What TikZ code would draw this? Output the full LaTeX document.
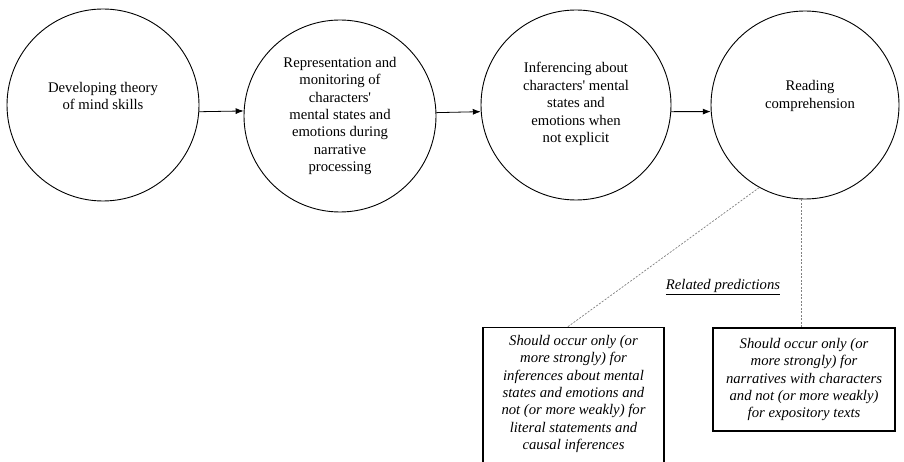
\documentclass[tikz,border=0pt]{standalone}
\usepackage{fontspec}
\setmainfont{Liberation Serif}
\usetikzlibrary{arrows.meta}
\newcommand{\apos}{\textquotesingle}
\tikzset{
  circ/.style={draw, circle, line width=0.9pt, inner sep=0pt},
  ctext/.style={align=center, font=\fontsize{14.7}{17.4}\selectfont},
  ptext/.style={align=center, font=\fontsize{14.7}{17.4}\selectfont\itshape},
  pbox/.style={draw, rectangle, line width=1.2pt, inner sep=0pt},
  arr/.style={line width=0.8pt, -{Latex[length=8pt,width=6pt]}},
  dashlink/.style={draw=gray, line width=0.7pt, dash pattern=on 2pt off 1.5pt}
}
\begin{document}
\begin{tikzpicture}[x=1pt,y=-1pt]
\useasboundingbox (0,0) rectangle (904,462);
\clip (0,0) rectangle (904,462);
\fill[white] (0,0) rectangle (904,462);

\node[circ, minimum size=192pt] (c1) at (103,105) {};
\node[circ, minimum size=192pt] (c2) at (340,116) {};
\node[circ, minimum size=190pt] (c3) at (576,105) {};
\node[circ, minimum size=188pt] (c4) at (805,105) {};

\node[ctext] (t1) at (103,96) {Developing theory\\of mind skills};
\node[ctext] (t2) at (340,116) {Representation and\\monitoring of\\characters\apos\\mental states and\\emotions during\\narrative\\processing};
\node[ctext] (t3) at (576,104) {Inferencing about\\characters\apos{} mental\\states and\\emotions when\\not explicit};
\node[ctext] (t4) at (810,96) {Reading\\comprehension};

\draw[arr] (c1.-4) -- (c2.177.6);
\draw[arr] (c2.2.4) -- (c3.184.2);
\draw[arr] (c3.-4.2) -- (c4.184.3);

\node[pbox, minimum width=181pt, minimum height=150pt, anchor=north] (b1) at (573.5,327) {};
\node[ptext] (t5) at (573.5,394) {Should occur only (or\\more strongly) for\\inferences about mental\\states and emotions and\\not (or more weakly) for\\literal statements and\\causal inferences};

\node[pbox, minimum width=182pt, minimum height=103pt, ptext] (b2) at (804,379.5) {Should occur only (or\\more strongly) for\\narratives with characters\\and not (or more weakly)\\for expository texts};

\node[ptext] (rp) at (723,287) {\underline{Related predictions}};

\draw[dashlink] (c4.241.6) -- ([xshift=-6pt]b1.north);
\draw[dashlink] ([xshift=-4pt]c4.south) -- ([xshift=-4pt]c4.south |- b2.north);
\end{tikzpicture}
\end{document}
